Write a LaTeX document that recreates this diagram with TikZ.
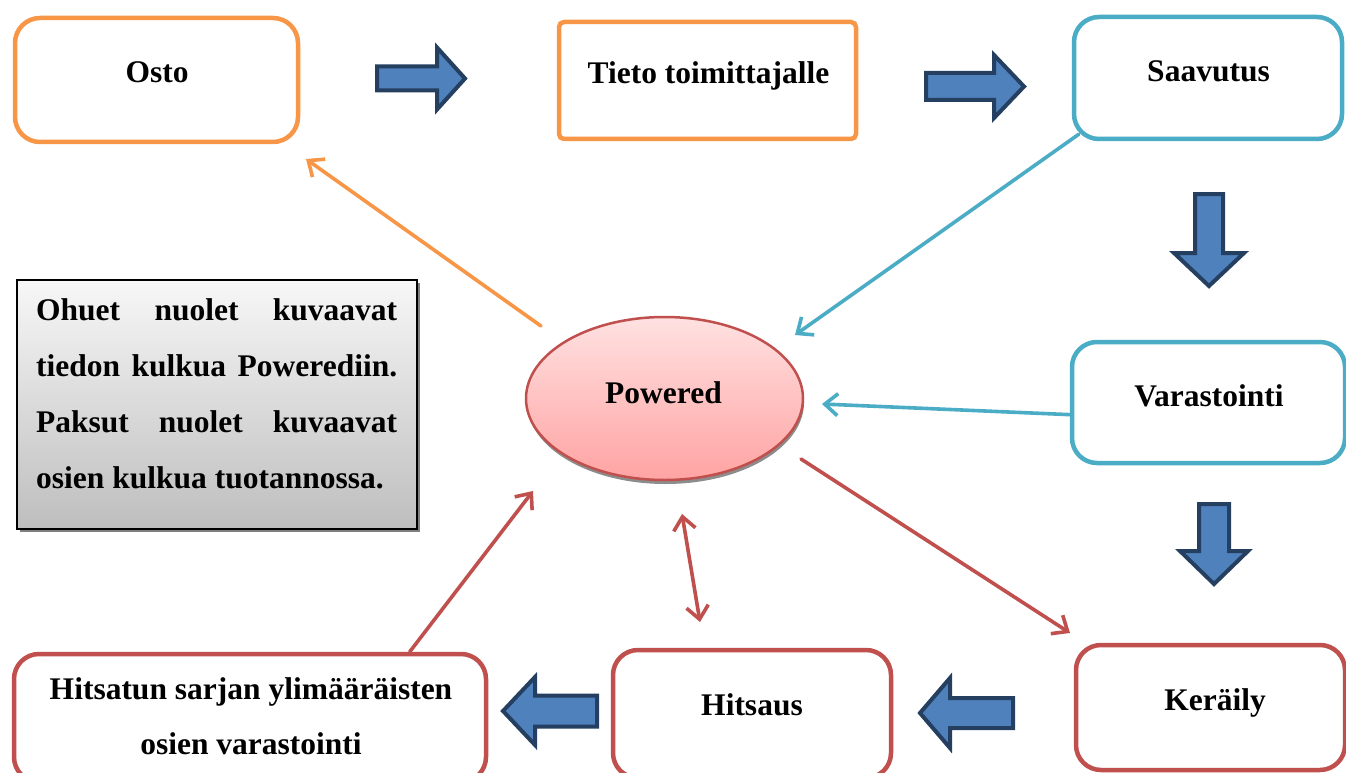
\documentclass[tikz,border=0pt]{standalone}
\usepackage{fontspec}
\setmainfont{Liberation Serif}
\usetikzlibrary{arrows.meta,shapes.geometric,shadows}
\definecolor{orangeC}{HTML}{F79646}
\definecolor{blueC}{HTML}{4BACC6}
\definecolor{redC}{HTML}{C0504D}
\definecolor{barFill}{HTML}{4F81BD}
\definecolor{barLine}{HTML}{243F60}
\definecolor{pinkTop}{RGB}{255,225,225}
\definecolor{pinkBot}{RGB}{255,163,163}
\definecolor{grayTop}{RGB}{247,247,247}
\definecolor{grayBot}{RGB}{190,190,190}
\begin{document}
\begin{tikzpicture}[x=1pt,y=-1pt,
  boxnode/.style={draw, line width=4.5pt, fill=white, rounded corners=25pt, inner sep=0pt},
  lbl/.style={font=\fontsize{31.5}{38}\selectfont\bfseries, inner sep=0pt, anchor=base},
  >={Straight Barb[length=13pt,width=22pt]},
  infoarr/.style={line width=3.6pt, line cap=round},
  pics/barr/.style n args={4}{code={
    \draw[line width=4pt, draw=barLine, fill=barFill, line join=miter]
      (0,-#2) -- ({#1-#4},-#2) -- ({#1-#4},-#3) -- (#1,0) -- ({#1-#4},#3) -- ({#1-#4},#2) -- (0,#2) -- cycle;}}
]
\path[use as bounding box] (0,0) rectangle (1346,773);
\clip (0,0) rectangle (1346,773);

% boxes
\node[boxnode, draw=orangeC, minimum width=283, minimum height=124] (osto) at (156.5,80) {};
\node[boxnode, draw=orangeC, rounded corners=5pt, minimum width=297, minimum height=117] (tieto) at (707.5,80.5) {};
\node[boxnode, draw=blueC, minimum width=268, minimum height=122] (saav) at (1208,78) {};
\node[boxnode, draw=blueC, minimum width=273, minimum height=121] (vara) at (1208.5,402.5) {};
\node[boxnode, draw=redC, minimum width=269, minimum height=125] (kera) at (1210.5,707.5) {};
\node[boxnode, draw=redC, minimum width=278, minimum height=128] (hits) at (752,714) {};
\node[boxnode, draw=redC, minimum width=472, minimum height=128] (hvar) at (250,718) {};

% ellipse
\node[ellipse, draw=redC, line width=2.5pt, top color=pinkTop, bottom color=pinkBot,
      minimum width=277, minimum height=163,
      drop shadow={shadow xshift=1pt, shadow yshift=-4pt, fill=black, opacity=0.45}] (pw) at (664.5,398.5) {};

% legend
\node[draw=black, line width=1.5pt, top color=grayTop, bottom color=grayBot,
      minimum width=400, minimum height=249, inner sep=0pt,
      drop shadow={shadow xshift=3pt, shadow yshift=-3pt, fill=black, opacity=0.5}] (leg) at (217,404.5) {};
\node[font=\fontsize{31.5}{56}\selectfont\bfseries, text width=361pt, align=justify,
      inner sep=0pt, anchor=north west] (legtxt) at (36,298.5)
  {\hyphenpenalty=10000 Ohuet nuolet kuvaavat\linebreak tiedon kulkua Powerediin.\linebreak Paksut nuolet kuvaavat\linebreak osien kulkua tuotannossa.};

% thin info arrows
\coordinate (o1) at (541,326);
\coordinate (o2) at (306,159);
\coordinate (b1) at (795,335);
\coordinate (b2) at (822,404);
\coordinate (r1) at (801,459);
\coordinate (r1e) at (1070,633);
\coordinate (d1) at (682,514);
\coordinate (d2) at (700,622);
\coordinate (h2) at (533,491);
\draw[infoarr, orangeC, ->] (o1) -- (o2);
\draw[infoarr, blueC, ->] ([shift={(7,-7)}]saav.south west) -- (b1);
\draw[infoarr, blueC, ->] (vara.185) -- (b2);
\draw[infoarr, redC, ->] (r1) -- (r1e);
\draw[infoarr, redC, <->] (d1) -- (d2);
\draw[infoarr, redC, ->] ([xshift=398pt]hvar.north west) -- (h2);

% block arrows
\pic (a1) at (377,78.5) {barr={88}{12}{31}{28}};
\pic (a2) at (926,86.5) {barr={98}{13.5}{31.5}{30}};
\pic[rotate=-90] (a3) at (1209,194) {barr={92}{14}{35}{33}};
\pic[rotate=-90] (a4) at (1214,504) {barr={80}{15}{34}{33}};
\pic[rotate=180] (a5) at (1013,713) {barr={93}{15}{35}{30}};
\pic[rotate=180] (a6) at (597,711) {barr={94}{15.5}{34}{32}};

% labels
\node[lbl] (tosto) at (157,83) {Osto};
\node[lbl] (ttieto) at (708.5,84) {Tieto toimittajalle};
\node[lbl] (tsaav) at (1208.5,82) {Saavutus};
\node[lbl] (tvara) at (1209,406) {Varastointi};
\node[lbl] (tpw) at (663.5,403) {Powered};
\node[lbl] (tkera) at (1215,710) {Keräily};
\node[lbl] (thits) at (752,715) {Hitsaus};
\node[font=\fontsize{31.5}{55}\selectfont\bfseries, align=center, inner sep=0pt, anchor=north] (thvar) at (251,677.5)
  {Hitsatun sarjan ylimääräisten\\osien varastointi};
\end{tikzpicture}
\end{document}
